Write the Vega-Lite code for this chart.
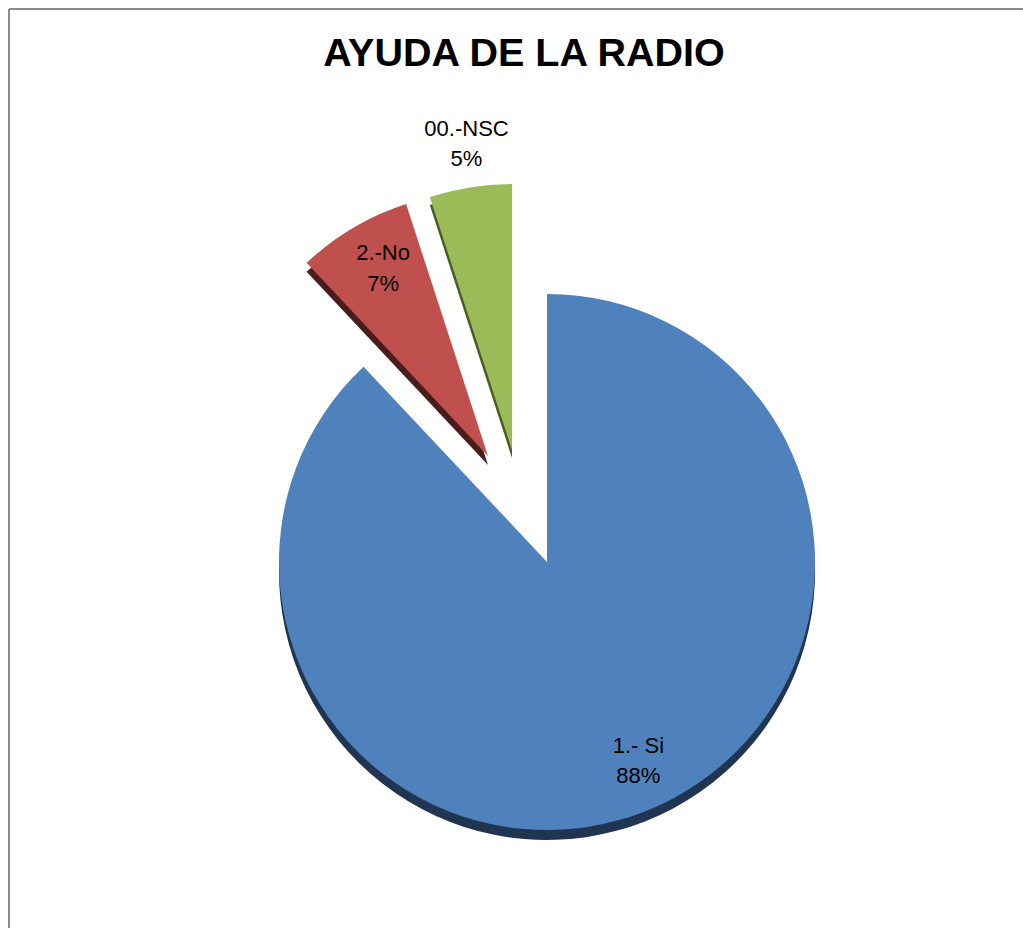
{
  "$schema": "https://vega.github.io/schema/vega-lite/v6.json",
  "width": 1014,
  "height": 919,
  "autosize": {"type": "none"},
  "padding": {"left": 9, "top": 9, "right": 0, "bottom": 0},
  "background": "white",
  "view": {"stroke": "#8a8a8a", "strokeWidth": 2, "strokeDash": [1014, 1933, 919, 0]},
  "title": {
    "text": "AYUDA DE LA RADIO",
    "font": "Liberation Sans",
    "fontSize": 39.5,
    "fontWeight": "bold",
    "color": "#000000",
    "anchor": "middle",
    "frame": "group",
    "baseline": "alphabetic",
    "offset": -58,
    "dy": 38,
    "dx": 8
  },
  "data": {
    "values": [
      {"cat": "1.- Si", "value": 88, "label": "1.- Si\n88%"},
      {"cat": "2.-No", "value": 7, "label": "2.-No\n7%"},
      {"cat": "00.-NSC", "value": 5, "label": "00.-NSC\n5%"}
    ]
  },
  "encoding": {
    "theta": {"field": "value", "type": "quantitative", "stack": true, "scale": {"domain": [0, 100]}},
    "order": {"field": "value", "type": "quantitative", "sort": "descending"},
    "detail": {"field": "cat", "type": "nominal"}
  },
  "layer": [
    {
      "mark": {"type": "arc", "x": 538, "y": 563, "radius": 268, "fill": "#1f3552"},
      "encoding": {"opacity": {"condition": {"test": "datum.cat === '1.- Si'", "value": 1}, "value": 0}}
    },
    {
      "mark": {"type": "arc", "x": 479, "y": 456, "radius": 265, "fill": "#4a1c1c"},
      "encoding": {"opacity": {"condition": {"test": "datum.cat === '2.-No'", "value": 1}, "value": 0}}
    },
    {
      "mark": {"type": "arc", "x": 503, "y": 449, "radius": 266, "fill": "#4a5c24"},
      "encoding": {"opacity": {"condition": {"test": "datum.cat === '00.-NSC'", "value": 1}, "value": 0}}
    },
    {
      "mark": {"type": "arc", "x": 538, "y": 553, "radius": 268},
      "encoding": {
        "color": {"field": "cat", "type": "nominal", "legend": null, "scale": {"domain": ["1.- Si", "2.-No", "00.-NSC"], "range": ["#4f81bd", "#c0504d", "#9bbb59"]}},
        "opacity": {"condition": {"test": "datum.cat === '1.- Si'", "value": 1}, "value": 0}
      }
    },
    {
      "mark": {"type": "arc", "x": 479, "y": 447, "radius": 265},
      "encoding": {
        "color": {"field": "cat", "type": "nominal", "legend": null},
        "opacity": {"condition": {"test": "datum.cat === '2.-No'", "value": 1}, "value": 0}
      }
    },
    {
      "mark": {"type": "arc", "x": 503, "y": 441, "radius": 266},
      "encoding": {
        "color": {"field": "cat", "type": "nominal", "legend": null},
        "opacity": {"condition": {"test": "datum.cat === '00.-NSC'", "value": 1}, "value": 0}
      }
    },
    {
      "mark": {"type": "text", "x": 538, "y": 553, "radius": 221, "dx": 10, "dy": -21, "font": "Liberation Sans", "fontSize": 22, "lineBreak": "\n", "lineHeight": 30, "baseline": "middle", "align": "center", "color": "#000000"},
      "encoding": {
        "text": {"field": "label"},
        "opacity": {"condition": {"test": "datum.cat === '1.- Si'", "value": 1}, "value": 0}
      }
    },
    {
      "mark": {"type": "text", "x": 479, "y": 447, "radius": 216, "dx": 5, "dy": -17, "font": "Liberation Sans", "fontSize": 22, "lineBreak": "\n", "lineHeight": 31, "baseline": "middle", "align": "center", "color": "#000000"},
      "encoding": {
        "text": {"field": "label"},
        "opacity": {"condition": {"test": "datum.cat === '2.-No'", "value": 1}, "value": 0}
      }
    },
    {
      "mark": {"type": "text", "x": 503, "y": 441, "radius": 310, "dx": 3, "dy": -15, "font": "Liberation Sans", "fontSize": 22, "lineBreak": "\n", "lineHeight": 30, "baseline": "middle", "align": "center", "color": "#000000"},
      "encoding": {
        "text": {"field": "label"},
        "opacity": {"condition": {"test": "datum.cat === '00.-NSC'", "value": 1}, "value": 0}
      }
    }
  ]
}
